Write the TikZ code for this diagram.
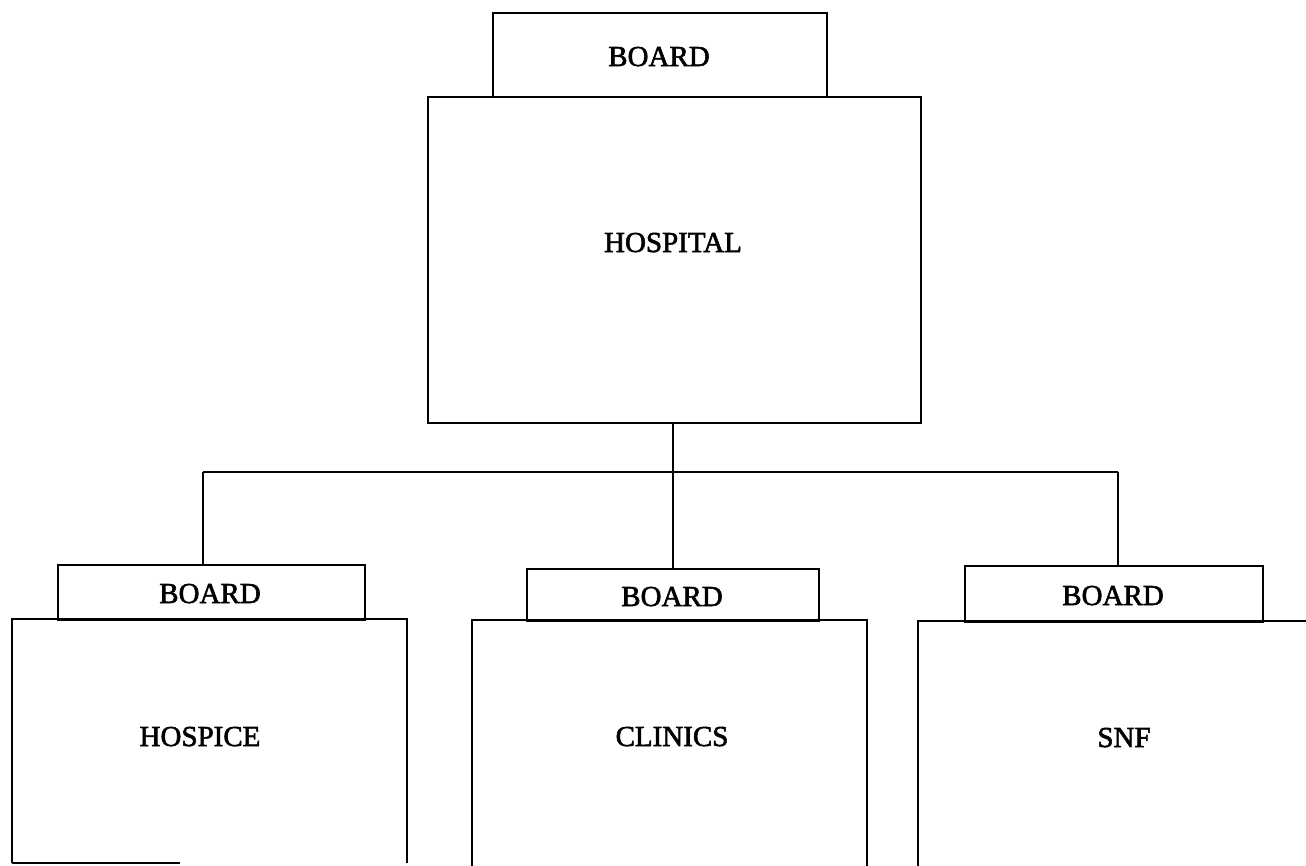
\documentclass[tikz,border=0pt]{standalone}
\usepackage{fontspec}
\setmainfont{Liberation Serif}
\newfontfamily\lblfont[FakeBold=2]{Liberation Serif}
\begin{document}
\begin{tikzpicture}[x=1pt,y=-1pt,
  box/.style={draw, line width=2pt, rectangle, inner sep=0pt, anchor=north west},
  openbox/.style={rectangle, inner sep=0pt, anchor=north west},
  lbl/.style={font=\lblfont\fontsize{29}{35}\selectfont, anchor=base, inner sep=0pt},
  wire/.style={line width=2pt}]
\useasboundingbox (0,0) rectangle (1306,865);
% top
\node[box, minimum width=334pt, minimum height=84pt] (tb) at (492,12) {};
\node[box, minimum width=493pt, minimum height=326pt] (hosp) at (427,96) {};
\node[lbl] (tbl) at (659,66) {BOARD};
\node[lbl] (hospl) at (673,252) {HOSPITAL};
% bottom boards
\node[box, minimum width=307pt, minimum height=55pt] (hb) at (57,564) {};
\node[box, minimum width=292pt, minimum height=52pt] (cb) at (526,568) {};
\node[box, minimum width=298pt, minimum height=56pt] (sb) at (964,565) {};
\node[lbl] (hbl) at (210,603) {BOARD};
\node[lbl] (cbl) at (672,606) {BOARD};
\node[lbl] (sbl) at (1113,605) {BOARD};
% bottom boxes (cut off by page edge)
\node[openbox, minimum width=395pt, minimum height=244pt] (hx) at (12,619) {};
\node[openbox, minimum width=395pt, minimum height=250pt] (cx) at (472,620) {};
\node[openbox, minimum width=390pt, minimum height=250pt] (sx) at (918,621) {};
\draw[wire] (hx.south west) |- (hx.north east) -- (hx.south east);
\draw[wire] (hx.south west) -- ++(168,0);
\draw[wire] (cx.south west) |- (cx.north east) -- (cx.south east);
\draw[wire] (sx.south west) |- (sx.north east);
\node[lbl] (hxl) at (200,746) {HOSPICE};
\node[lbl] (cxl) at (672,746) {CLINICS};
\node[lbl] (sxl) at (1124,747) {SNF};
% connectors
\coordinate (jl) at (203,472);
\coordinate (jr) at (1118,472);
\draw[wire] (hosp.south -| cb.north) -- (cb.north);
\draw[wire] (jl) -- (jr);
\draw[wire] (jl) -- (jl |- hb.north);
\draw[wire] (jr) -- (jr |- sb.north);
\end{tikzpicture}
\end{document}
